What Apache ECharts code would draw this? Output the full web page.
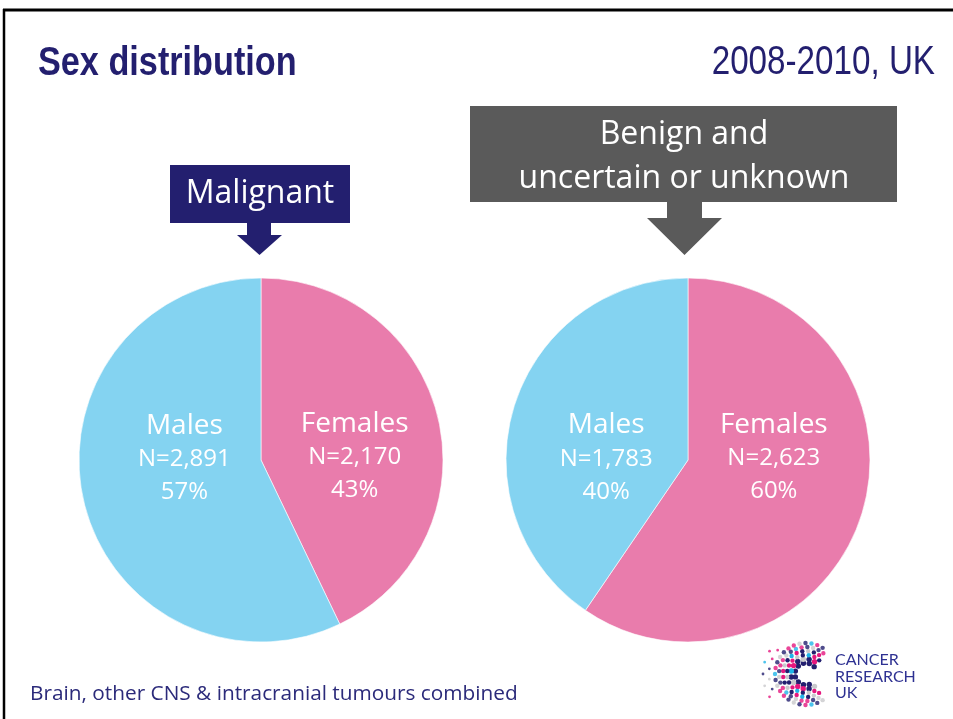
<!DOCTYPE html>
<html>
<head>
<meta charset="utf-8">
<title>Sex distribution</title>
<script src="https://cdn.jsdelivr.net/npm/echarts@6/dist/echarts.min.js"></script>
<style>
    html, body { margin: 0; padding: 0; background: #ffffff; }
    #chart { width: 953px; height: 719px; }
</style>
</head>
<body>
<div id="chart"></div>
<script>
// data
var categories = ["Females", "Males"];
var malignantCounts = [2170, 2891];
var benignCounts = [2623, 1783];
var groupTitles = ["Malignant", "Benign and\nuncertain or unknown"];
var titleText = "Sex distribution";
var periodText = "2008-2010, UK";
var footnoteText = "Brain, other CNS & intracranial tumours combined";

var NAVY = "#231f6f";
var GREY = "#5a5a5a";
var PINK = "#e97cac";
var BLUE = "#84d3f1";
var FONT = "'Open Sans', Lato, sans-serif";
var HEAD = "'Liberation Sans', Arial, sans-serif";

// label nudges so the labels sit level, as in the slide (Females, Males)
var labelShift = {
    malignant: [[2, 18], [15, -22]],
    benign: [[-4, -30], [8, 26]]
};

var chart = echarts.init(document.getElementById("chart"), null, {renderer: "canvas"});

function pieSeries(counts, center, shifts) {
    return {
        type: "pie",
        center: center,
        radius: 182,
        startAngle: 90,
        clockwise: true,
        silent: true,
        animation: false,
        itemStyle: {borderColor: "#ffffff", borderWidth: 0.6},
        label: {
            show: true,
            position: "inside",
            color: "#ffffff",
            fontFamily: FONT,
            formatter: function (p) {
                return "{n|" + p.name + "}\n{v|N=" + p.value.toLocaleString("en-GB") + "}\n{v|" + Math.round(p.percent) + "%}";
            },
            rich: {
                n: {fontSize: 28, lineHeight: 34, color: "#ffffff", fontFamily: FONT},
                v: {fontSize: 24, lineHeight: 33, color: "#ffffff", fontFamily: FONT}
            }
        },
        labelLine: {show: false},
        data: categories.map(function (name, i) {
            return {
                name: name,
                value: counts[i],
                itemStyle: {color: name === "Females" ? PINK : BLUE},
                label: {offset: shifts[i]}
            };
        })
    };
}

// logo dots: a thick "C" of small dots, opening to the right
function logoDots() {
    var els = [];
    var cols = ["#e5177e", NAVY, "#c9c9cc", NAVY, "#e5177e", "#1fb5e8", NAVY, "#c9c9cc", "#e5177e"];
    var cx = 806, cy = 674;
    var k = 0;
    var rings = [11, 15, 19, 23, 27, 31, 37, 43];
    rings.forEach(function (r, ring) {
        var outer = ring > 5;
        var from = outer ? 140 : 42 + ring * 2;
        var to = outer ? 220 : 318 - ring * 2;
        var n = outer ? 5 : Math.round((to - from) * r / 340);
        for (var j = 0; j < n; j++) {
            var a = (from + ((to - from) * (j + (ring % 2) * 0.5)) / n) * Math.PI / 180;
            var size = ring < 2 ? 2.7 : (outer ? 1.4 : 2.2);
            els.push({
                type: "circle",
                silent: true,
                shape: {cx: cx + r * Math.cos(a), cy: cy - r * Math.sin(a), r: size},
                style: {fill: ring === 0 ? NAVY : cols[(k++) % cols.length], opacity: ring > 3 ? 0.8 : 1}
            });
        }
    });
    return els;
}

var graphics = [
    // slide frame
    {type: "line", silent: true, shape: {x1: 3, y1: 10, x2: 953, y2: 10}, style: {stroke: "#000", lineWidth: 3}},
    {type: "line", silent: true, shape: {x1: 4, y1: 9, x2: 4, y2: 719}, style: {stroke: "#000", lineWidth: 2.5}},

    // headings, condensed like the slide font
    {type: "text", silent: true, x: 38, y: 43, scaleX: 0.835,
        style: {text: titleText, fill: NAVY, font: "bold 41px " + HEAD}},
    {type: "text", silent: true, x: 935, y: 43, scaleX: 0.83,
        style: {text: periodText, fill: NAVY, font: "40px " + HEAD, align: "right"}},

    // Malignant callout
    {type: "rect", silent: true, shape: {x: 170, y: 165, width: 180, height: 58}, style: {fill: NAVY}},
    {type: "polygon", silent: true,
        shape: {points: [[247, 222], [271, 222], [271, 235], [282, 235], [259.5, 255], [237, 235], [247, 235]]},
        style: {fill: NAVY}},
    {type: "text", silent: true, x: 260, y: 194,
        style: {text: groupTitles[0], fill: "#fff", font: "32px " + FONT, align: "center", verticalAlign: "middle"}},

    // Benign callout
    {type: "rect", silent: true, shape: {x: 470, y: 106, width: 427, height: 96}, style: {fill: GREY}},
    {type: "polygon", silent: true,
        shape: {points: [[667, 201], [702, 201], [702, 218], [722, 218], [684.5, 255], [647, 218], [667, 218]]},
        style: {fill: GREY}},
    {type: "text", silent: true, x: 684, y: 157,
        style: {text: groupTitles[1], fill: "#fff", font: "32px " + FONT, align: "center", verticalAlign: "middle", lineHeight: 44}},

    {type: "text", silent: true, left: 30, top: 684,
        style: {text: footnoteText, fill: "#2b2a7a", font: "20.8px " + FONT}},

    {type: "text", silent: true, left: 835, top: 652,
        style: {text: "CANCER\nRESEARCH\nUK", fill: "#2e3192", font: "16px Lato, sans-serif", lineHeight: 16.5}}
].concat(logoDots());

var option = {
    backgroundColor: "#ffffff",
    animation: false,
    series: [
        pieSeries(malignantCounts, [261, 460], labelShift.malignant),
        pieSeries(benignCounts, [688, 460], labelShift.benign)
    ],
    graphic: {elements: graphics}
};

chart.setOption(option);
</script>
</body>
</html>
